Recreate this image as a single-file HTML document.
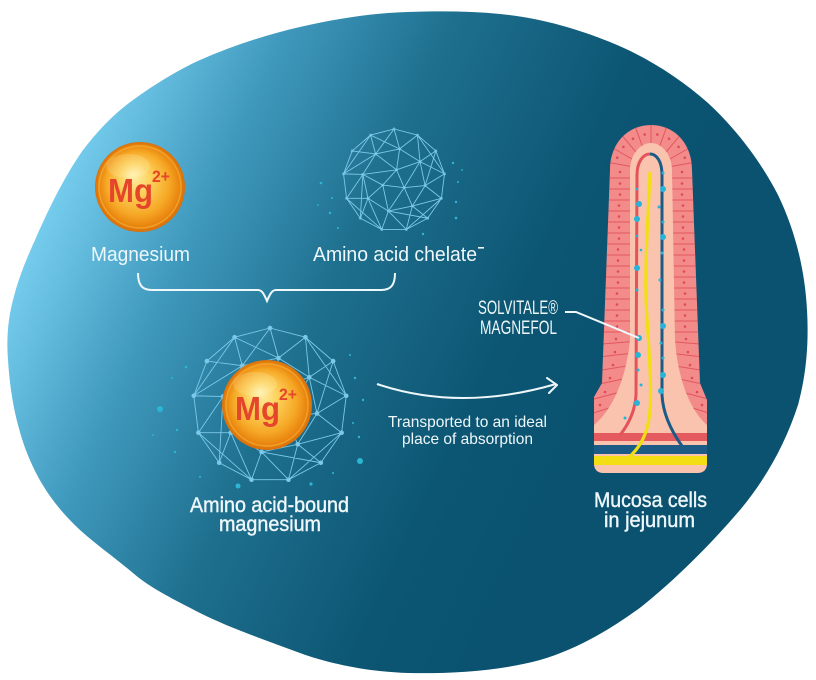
<!DOCTYPE html>
<html><head><meta charset="utf-8"><style>
html,body{margin:0;padding:0;background:#fff;}
svg{display:block;}
.t{font-family:"Liberation Sans Narrow","Liberation Sans",sans-serif;fill:#eef7fa;}
.mg{font-family:"Liberation Sans",sans-serif;font-weight:bold;fill:#e5462b;}
</style></head><body>
<svg width="816" height="680" viewBox="0 0 816 680" xmlns="http://www.w3.org/2000/svg">
<defs>
<linearGradient id="bg" gradientUnits="userSpaceOnUse" x1="20" y1="250" x2="560" y2="500">
<stop offset="0" stop-color="#78cff0"/><stop offset="0.25" stop-color="#3f99bd"/>
<stop offset="0.5" stop-color="#1e6f8e"/><stop offset="0.8" stop-color="#0c5673"/>
<stop offset="1" stop-color="#0a5270"/></linearGradient>
<radialGradient id="gold" cx="0.5" cy="0.5" r="0.5" fx="0.42" fy="0.36">
<stop offset="0" stop-color="#fff1b0"/><stop offset="0.35" stop-color="#fdd05a"/>
<stop offset="0.7" stop-color="#f6a826"/><stop offset="0.9" stop-color="#e9850f"/>
<stop offset="1" stop-color="#d86f0a"/></radialGradient>
<g id="net" fill="none" stroke="#7cc8e8" stroke-width="0.9" stroke-linejoin="round">
<path vector-effect="non-scaling-stroke" d="M0,-100 L46,-88 L82,-57 L99,-12 L93,36 L66,75 L24,97 L-24,97 L-66,75 L-93,36 L-99,-12 L-82,-57 L-46,-88 Z
M11,-61 L51,-36 L61,11 L36,51 L-11,61 L-51,36 L-61,-11 L-36,-51 Z
M0,-100 L11,-61 L46,-88 L51,-36 L82,-57 M99,-12 L51,-36 M99,-12 L61,11 L93,36 L36,51 L66,75 M24,97 L36,51
M24,97 L-11,61 L-24,97 L-51,36 L-66,75 M-93,36 L-51,36 M-93,36 L-61,-11 L-99,-12 L-36,-51 L-82,-57
M-46,-88 L-36,-51 M-46,-88 L11,-61 M82,-57 L61,11 M66,75 L-11,61 M-66,75 L-61,-11 M0,-100 L-36,-51
M11,-61 L5,-20 L51,-36 M5,-20 L-36,-51 M5,-20 L20,15 L-22,10 Z M61,11 L20,15 L36,51 M-11,61 L-22,10 L-51,36
M-61,-11 L-22,10 M-11,61 L20,15 M51,-36 L20,15 M-61,-11 L5,-20
M46,-88 L99,-12 M-46,-88 L-99,-12 M93,36 L24,97 M-93,36 L-24,97"/>
</g>
<g id="nodes" fill="#7cc8e8">
<circle cx="0" cy="-100" r="3"/><circle cx="46" cy="-88" r="3"/><circle cx="82" cy="-57" r="3"/><circle cx="99" cy="-12" r="3"/><circle cx="93" cy="36" r="3"/><circle cx="66" cy="75" r="3"/><circle cx="24" cy="97" r="3"/><circle cx="-24" cy="97" r="3"/><circle cx="-66" cy="75" r="3"/><circle cx="-93" cy="36" r="3"/><circle cx="-99" cy="-12" r="3"/><circle cx="-82" cy="-57" r="3"/><circle cx="-46" cy="-88" r="3"/>
<circle cx="11" cy="-61" r="3"/><circle cx="51" cy="-36" r="3"/><circle cx="61" cy="11" r="3"/><circle cx="36" cy="51" r="3"/><circle cx="-11" cy="61" r="3"/><circle cx="-51" cy="36" r="3"/><circle cx="-61" cy="-11" r="3"/><circle cx="-36" cy="-51" r="3"/>
<circle cx="5" cy="-20" r="3"/><circle cx="20" cy="15" r="3"/><circle cx="-22" cy="10" r="3"/>
</g>
<clipPath id="vclip"><path d="M610,170 C610,143 628,125 651,125 C674,125 692,143 692,170 L700,383 L707,400 L707,463 Q707,473 697,473 L604,473 Q594,473 594,463 L594,397 L602,383 Z"/></clipPath>
</defs>

<path fill="url(#bg)" d="M408,12 C440,11 470,11 500,14 C540,18 575,28 610,42 C645,56 680,78 708,103 C735,128 760,160 778,195 C795,230 805,270 807,310 C809,345 806,375 798,405 C785,445 765,480 740,510 C710,545 675,580 641,607 C610,630 575,650 540,660 C500,671 450,674 408,673 C370,672 330,664 300,653 C265,640 230,628 200,613 C175,600 150,588 133,573 C108,552 85,537 67,517 C45,493 33,470 24,445 C14,415 10,390 8,360 C6,335 9,315 13,300 C18,280 25,262 35,240 C46,215 62,180 83,150 C100,128 115,113 133,100 C155,84 178,70 200,60 C232,46 265,35 300,27 C335,19 372,13 408,12 Z"/>

<g transform="translate(394,180) scale(0.51)"><use href="#net"/><use href="#nodes" opacity="0.7"/></g>
<g fill="#2cb6d6">
<circle cx="321" cy="183" r="1.3"/><circle cx="332" cy="198" r="1"/><circle cx="330" cy="213" r="1.2"/><circle cx="318" cy="205" r="0.9"/><circle cx="338" cy="228" r="1"/>
<circle cx="453" cy="163" r="1.2"/><circle cx="458" cy="182" r="1"/><circle cx="456" cy="202" r="1.2"/><circle cx="456" cy="218" r="1.3"/><circle cx="423" cy="234" r="1.2"/><circle cx="462" cy="170" r="0.9"/>
</g>

<circle cx="140" cy="187" r="45" fill="url(#gold)"/>
<circle cx="140" cy="187" r="41" fill="none" stroke="#f7b63a" stroke-width="1.5" opacity="0.6"/>
<ellipse cx="128" cy="166" rx="22" ry="12" fill="#fff8d0" opacity="0.18"/>
<text class="mg" x="108" y="202" font-size="33" textLength="45" lengthAdjust="spacingAndGlyphs">Mg</text>
<text class="mg" x="152" y="182" font-size="17" textLength="18" lengthAdjust="spacingAndGlyphs">2+</text>

<text class="t" x="91" y="261" font-size="20" textLength="99" lengthAdjust="spacingAndGlyphs">Magnesium</text>
<text class="t" x="313" y="261" font-size="20" textLength="164" lengthAdjust="spacingAndGlyphs">Amino acid chelate</text>
<rect x="478" y="247" width="6" height="1.6" fill="#eef7fa"/>

<path d="M138,273 C138,285 142,290 152,290 L258,290 C262,290 264,294 267,301 C270,294 272,290 276,290 L381,290 C391,290 395,285 395,273" fill="none" stroke="#eef7fa" stroke-width="2"/>

<g transform="translate(270,405) scale(0.77)"><use href="#net"/><use href="#nodes"/></g>
<g fill="#2cb6d6">
<circle cx="160" cy="409" r="3"/><circle cx="177" cy="430" r="1.2"/><circle cx="186" cy="367" r="1.3"/><circle cx="172" cy="378" r="1"/><circle cx="153" cy="435" r="1"/>
<circle cx="360" cy="461" r="3"/><circle cx="238" cy="486" r="2.5"/><circle cx="311" cy="484" r="1.6"/><circle cx="350" cy="355" r="1"/><circle cx="355" cy="378" r="1.2"/>
<circle cx="363" cy="400" r="1.2"/><circle cx="353" cy="423" r="1"/><circle cx="359" cy="437" r="1.2"/><circle cx="333" cy="473" r="1"/><circle cx="200" cy="477" r="1"/><circle cx="175" cy="452" r="1.2"/>
</g>
<circle cx="267" cy="405" r="45" fill="url(#gold)"/>
<circle cx="267" cy="405" r="41" fill="none" stroke="#f7b63a" stroke-width="1.5" opacity="0.6"/>
<ellipse cx="255" cy="384" rx="22" ry="12" fill="#fff8d0" opacity="0.18"/>
<text class="mg" x="235" y="420" font-size="33" textLength="45" lengthAdjust="spacingAndGlyphs">Mg</text>
<text class="mg" x="279" y="400" font-size="17" textLength="18" lengthAdjust="spacingAndGlyphs">2+</text>

<text class="t" x="190" y="512" font-size="21" textLength="159" lengthAdjust="spacingAndGlyphs" stroke="#eef7fa" stroke-width="0.4">Amino acid-bound</text>
<text class="t" x="219" y="531" font-size="21" textLength="102" lengthAdjust="spacingAndGlyphs" stroke="#eef7fa" stroke-width="0.4">magnesium</text>

<path d="M377,384 Q460,412 556,384" fill="none" stroke="#eef7fa" stroke-width="2"/>
<path d="M547,378 L557,385 L549,393" fill="none" stroke="#eef7fa" stroke-width="2" stroke-linecap="round" stroke-linejoin="round"/>
<text class="t" x="388" y="427" font-size="16" textLength="159" lengthAdjust="spacingAndGlyphs">Transported to an ideal</text>
<text class="t" x="402" y="444" font-size="16" textLength="131" lengthAdjust="spacingAndGlyphs">place of absorption</text>

<text class="t" x="478" y="314" font-size="19" textLength="80" lengthAdjust="spacingAndGlyphs">SOLVITALE®</text>
<text class="t" x="480" y="334" font-size="19" textLength="77" lengthAdjust="spacingAndGlyphs">MAGNEFOL</text>

<path fill="#f28b8a" d="M610,170 C610,143 628,125 651,125 C674,125 692,143 692,170 L700,383 L707,400 L707,463 Q707,473 697,473 L604,473 Q594,473 594,463 L594,397 L602,383 Z"/>
<g clip-path="url(#vclip)" stroke="#e2575f" stroke-width="1" fill="none">
<path d="M651,170 L601.8,161.3 M651,170 L607.7,145 M651,170 L618.9,131.7 M651,170 L633.9,123 M651,170 L651,120 M651,170 L668.1,123 M651,170 L683.1,131.7 M651,170 L694.3,145 M651,170 L700.2,161.3"/>
<path d="M590,178 H712 M590,189 H712 M590,200 H712 M590,211 H712 M590,222 H712 M590,233 H712 M590,244 H712 M590,255 H712 M590,266 H712 M590,277 H712 M590,288 H712 M590,299 H712 M590,310 H712 M590,321 H712 M590,332 H712 M590,345 L651,340 L712,345 M590,358 L651,351 L712,358 M590,372 L651,362 L712,372 M590,386 L651,373 L712,386 M590,400 L651,384 L712,400 M590,414 L651,395 L712,414"/>
</g>
<path fill="#f9c3ad" d="M630,170 C630,155 640,143 651,143 C662,143 672,155 672,170 L675,340 C678,380 690,410 707,425 L707,463 Q707,473 697,473 L604,473 Q594,473 594,463 L594,425 C612,410 626,380 630,340 Z"/>
<g fill="#e04b55">
<circle cx="617.2" cy="157.7" r="1.3"/><circle cx="623.4" cy="146.9" r="1.3"/><circle cx="633" cy="138.8" r="1.3"/><circle cx="644.7" cy="134.5" r="1.3"/><circle cx="657.3" cy="134.5" r="1.3"/><circle cx="669" cy="138.8" r="1.3"/><circle cx="678.6" cy="146.9" r="1.3"/><circle cx="684.8" cy="157.7" r="1.3"/>
<circle cx="620" cy="172" r="1.3"/><circle cx="620" cy="183.5" r="1.3"/><circle cx="620" cy="194.5" r="1.3"/><circle cx="619" cy="205.5" r="1.3"/><circle cx="619" cy="216.5" r="1.3"/><circle cx="619" cy="227.5" r="1.3"/><circle cx="619" cy="238.5" r="1.3"/><circle cx="618" cy="249.5" r="1.3"/><circle cx="618" cy="260.5" r="1.3"/><circle cx="618" cy="271.5" r="1.3"/><circle cx="618" cy="282.5" r="1.3"/><circle cx="617" cy="293.5" r="1.3"/><circle cx="617" cy="304.5" r="1.3"/><circle cx="617" cy="315.5" r="1.3"/><circle cx="617" cy="326.5" r="1.3"/><circle cx="616" cy="339" r="1.3"/><circle cx="615" cy="352" r="1.3"/><circle cx="613" cy="365" r="1.3"/><circle cx="610" cy="378" r="1.3"/><circle cx="605" cy="392" r="1.3"/><circle cx="600" cy="405" r="1.3"/>
<circle cx="682" cy="172" r="1.3"/><circle cx="682" cy="183.5" r="1.3"/><circle cx="682" cy="194.5" r="1.3"/><circle cx="683" cy="205.5" r="1.3"/><circle cx="683" cy="216.5" r="1.3"/><circle cx="683" cy="227.5" r="1.3"/><circle cx="683" cy="238.5" r="1.3"/><circle cx="684" cy="249.5" r="1.3"/><circle cx="684" cy="260.5" r="1.3"/><circle cx="684" cy="271.5" r="1.3"/><circle cx="684" cy="282.5" r="1.3"/><circle cx="685" cy="293.5" r="1.3"/><circle cx="685" cy="304.5" r="1.3"/><circle cx="685" cy="315.5" r="1.3"/><circle cx="685" cy="326.5" r="1.3"/><circle cx="686" cy="339" r="1.3"/><circle cx="688" cy="352" r="1.3"/><circle cx="690" cy="365" r="1.3"/><circle cx="692" cy="378" r="1.3"/><circle cx="697" cy="392" r="1.3"/><circle cx="702" cy="405" r="1.3"/>
</g>
<rect x="594" y="433" width="113" height="8" fill="#e45a5e"/>
<rect x="594" y="445" width="113" height="9" fill="#1d5b87"/>
<path d="M594,456 H707 V465 H594 Z" fill="#f2de12"/>
<path d="M620,435 C628,425 635,412 636,395 L637,175 C637,162 643,154 650,154" fill="none" stroke="#e4525c" stroke-width="3"/>
<path d="M650,154 C657,154 662,162 662,175 L662,395 C663,415 672,432 682,446" fill="none" stroke="#1d5b87" stroke-width="3"/>
<path d="M650,172 C648,220 645,260 646,300 C648,340 652,380 650,410 C648,435 640,448 626,460" fill="none" stroke="#f1de14" stroke-width="3.2"/>
<g fill="#26b4d9">
<circle cx="637" cy="189" r="1.3"/><circle cx="639" cy="204" r="3"/><circle cx="637" cy="219" r="3"/><circle cx="637" cy="236" r="1.3"/><circle cx="641" cy="250" r="1.3"/><circle cx="637" cy="268" r="3"/><circle cx="637" cy="290" r="1.5"/><circle cx="639" cy="338" r="3"/><circle cx="638" cy="355" r="3"/><circle cx="638" cy="370" r="1.5"/><circle cx="641" cy="385" r="1.5"/><circle cx="637" cy="403" r="3"/><circle cx="625" cy="418" r="1.5"/>
<circle cx="663" cy="173" r="1.5"/><circle cx="663" cy="189" r="3"/><circle cx="659" cy="207" r="1.5"/><circle cx="663" cy="222" r="1.5"/><circle cx="663" cy="237" r="3"/><circle cx="662" cy="253" r="1.5"/><circle cx="660" cy="280" r="1.5"/><circle cx="663" cy="310" r="1.5"/><circle cx="663" cy="326" r="3"/><circle cx="661" cy="343" r="1.5"/><circle cx="663" cy="358" r="1.5"/><circle cx="663" cy="375" r="3"/><circle cx="661" cy="391" r="3"/>
</g>
<path d="M565,312 L576,312 L639,338" fill="none" stroke="#eef7fa" stroke-width="2"/>

<text class="t" x="594" y="507" font-size="21" textLength="113" lengthAdjust="spacingAndGlyphs" stroke="#eef7fa" stroke-width="0.4">Mucosa cells</text>
<text class="t" x="604" y="527" font-size="21" textLength="91" lengthAdjust="spacingAndGlyphs" stroke="#eef7fa" stroke-width="0.4">in jejunum</text>
</svg>
</body></html>
